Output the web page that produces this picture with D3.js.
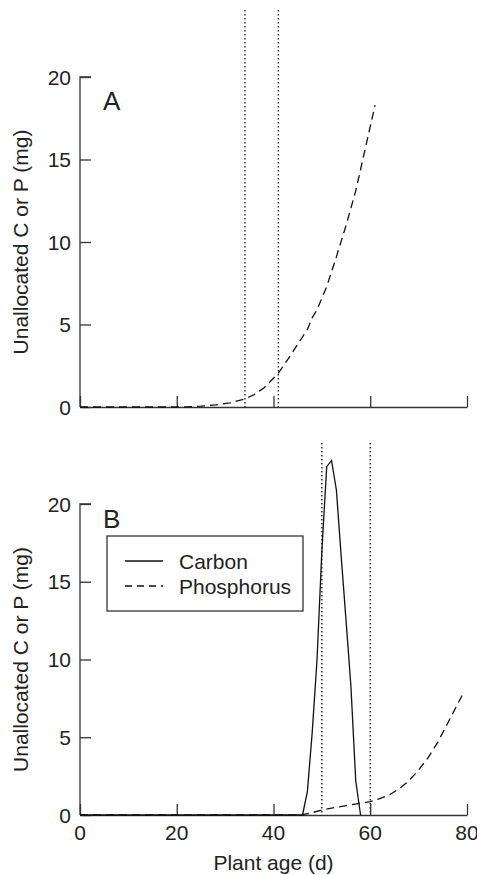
<!DOCTYPE html>
<html>
<head>
<meta charset="utf-8">
<script src="https://cdn.jsdelivr.net/npm/d3@7"></script>
<style>
  body { margin: 0; background: #fff; }
  svg { display: block; font-family: "Liberation Sans", Arial, sans-serif; }
</style>
</head>
<body>
<div id="chart"></div>
<script>
// Panel A: phosphorus only
const ageA = [0, 20, 22, 25, 28, 31, 34, 36, 38, 39, 41, 43, 45, 47, 48, 49, 51, 53, 55, 57, 59, 61];
const phosA = [0, 0, 0.01, 0.05, 0.13, 0.25, 0.48, 0.75, 1.15, 1.45, 2.05, 2.9, 3.8, 4.7, 5.4, 5.9, 7.3, 9.1, 11.0, 13.1, 15.7, 18.3];
const markersA = [34.1, 41];

// Panel B: carbon and phosphorus
const ageCarbon = [0, 46, 47, 48, 49, 50, 51, 52, 53, 54, 55, 56, 57, 58];
const carbonB = [0, 0, 1.5, 5.3, 10, 17, 22.4, 22.8, 20.9, 16.6, 12.5, 8.3, 2.2, 0];
const agePhosB = [0, 45, 46, 48, 50, 53, 55, 58, 60, 62, 64, 66, 68, 70, 72, 74, 76, 78, 79];
const phosB = [0, 0, 0.02, 0.15, 0.32, 0.5, 0.6, 0.75, 0.86, 1.05, 1.3, 1.7, 2.2, 2.9, 3.7, 4.7, 5.9, 7.1, 7.7];
const markersB = [50, 60];

const xTicks = [0, 20, 40, 60, 80];
const yTicks = [0, 5, 10, 15, 20];
const legendLabels = ['Carbon', 'Phosphorus'];

const width = 477, height = 875;
const ink = '#111', axisInk = '#333';

const svg = d3.select('#chart').append('svg')
    .attr('width', width)
    .attr('height', height);

const x = d3.scaleLinear().domain([0, 80]).range([80, 467]);

function panel(opts) {
    const y = d3.scaleLinear().domain([0, 20]).range([opts.y0, opts.y20]);
    const g = svg.append('g');

    // markers (dotted verticals)
    g.selectAll('.marker')
        .data(opts.markers)
        .enter()
        .append('line')
        .attr('x1', d => x(d)).attr('x2', d => x(d))
        .attr('y1', opts.markerTop).attr('y2', y(0))
        .attr('stroke', ink)
        .attr('stroke-width', 1.3)
        .attr('stroke-dasharray', '1.4,2.6');

    // y axis
    const yAxis = g.append('g')
        .attr('transform', `translate(${x(0)},0)`)
        .call(d3.axisRight(y).tickValues(yTicks).tickSize(11).tickFormat(''));
    yAxis.select('.domain').attr('d', `M11,${y(20)}H0V${y(0)}`);
    yAxis.selectAll('line, path').attr('stroke', axisInk).attr('stroke-width', 1.3);

    g.selectAll('.ylab')
        .data(yTicks)
        .enter()
        .append('text')
        .attr('x', x(0) - 9)
        .attr('y', d => y(d))
        .attr('dy', '0.36em')
        .attr('text-anchor', 'end')
        .attr('font-size', 21)
        .attr('fill', '#222')
        .text(d => d);

    // x axis
    const xAxis = g.append('g')
        .attr('transform', `translate(0,${y(0)})`)
        .call(d3.axisTop(x).tickValues(xTicks).tickSize(11).tickSizeOuter(0).tickFormat(''));
    xAxis.selectAll('line, path').attr('stroke', axisInk).attr('stroke-width', 1.3);

    if (opts.xLabels) {
        g.selectAll('.xlab')
            .data(xTicks)
            .enter()
            .append('text')
            .attr('x', d => x(d))
            .attr('y', y(0) + 25)
            .attr('text-anchor', 'middle')
            .attr('font-size', 21)
            .attr('fill', '#222')
            .text(d => d);
    }

    // y title
    g.append('text')
        .attr('transform', `translate(28,${(y(0) + y(20)) / 2}) rotate(-90)`)
        .attr('text-anchor', 'middle')
        .attr('font-size', 21)
        .attr('fill', '#222')
        .text('Unallocated C or P (mg)');

    // panel letter
    g.append('text')
        .attr('x', 103)
        .attr('y', y(20) + opts.letterDy)
        .attr('font-size', 26)
        .attr('fill', '#222')
        .text(opts.letter);

    const line = d3.line()
        .x(d => x(d[0]))
        .y(d => y(d[1]));

    opts.series.forEach(s => {
        g.append('path')
            .datum(d3.zip(s.ages, s.values))
            .attr('d', line)
            .attr('fill', 'none')
            .attr('stroke', ink)
            .attr('stroke-width', 1.3)
            .attr('stroke-dasharray', s.dash);
    });

    return { g, y };
}

panel({
    y0: 407, y20: 77, markerTop: 10, markers: markersA, letter: 'A', letterDy: 33,
    xLabels: false,
    series: [{ ages: ageA, values: phosA, dash: '8,5' }]
});

const b = panel({
    y0: 815, y20: 504, markerTop: 443, markers: markersB, letter: 'B', letterDy: 24,
    xLabels: true,
    series: [
        { ages: ageCarbon, values: carbonB, dash: null },
        { ages: agePhosB, values: phosB, dash: '8,5' }
    ]
});

// x title
svg.append('text')
    .attr('x', x(40))
    .attr('y', 870)
    .attr('text-anchor', 'middle')
    .attr('font-size', 21)
    .attr('fill', '#222')
    .text('Plant age (d)');

// legend
const legend = svg.append('g');
legend.append('rect')
    .attr('x', 107).attr('y', 536)
    .attr('width', 196).attr('height', 75)
    .attr('fill', '#fff')
    .attr('stroke', axisInk)
    .attr('stroke-width', 1.3);

legend.selectAll('.item')
    .data(legendLabels)
    .enter()
    .append('g')
    .attr('transform', (d, i) => `translate(0,${561 + i * 25})`)
    .each(function (d, i) {
        const it = d3.select(this);
        it.append('line')
            .attr('x1', 125).attr('x2', 163)
            .attr('stroke', ink)
            .attr('stroke-width', 1.3)
            .attr('stroke-dasharray', i ? '7,5' : null);
        it.append('text')
            .attr('x', 179)
            .attr('dy', '0.36em')
            .attr('font-size', 21)
            .attr('fill', '#222')
            .text(d);
    });
</script>
</body>
</html>
